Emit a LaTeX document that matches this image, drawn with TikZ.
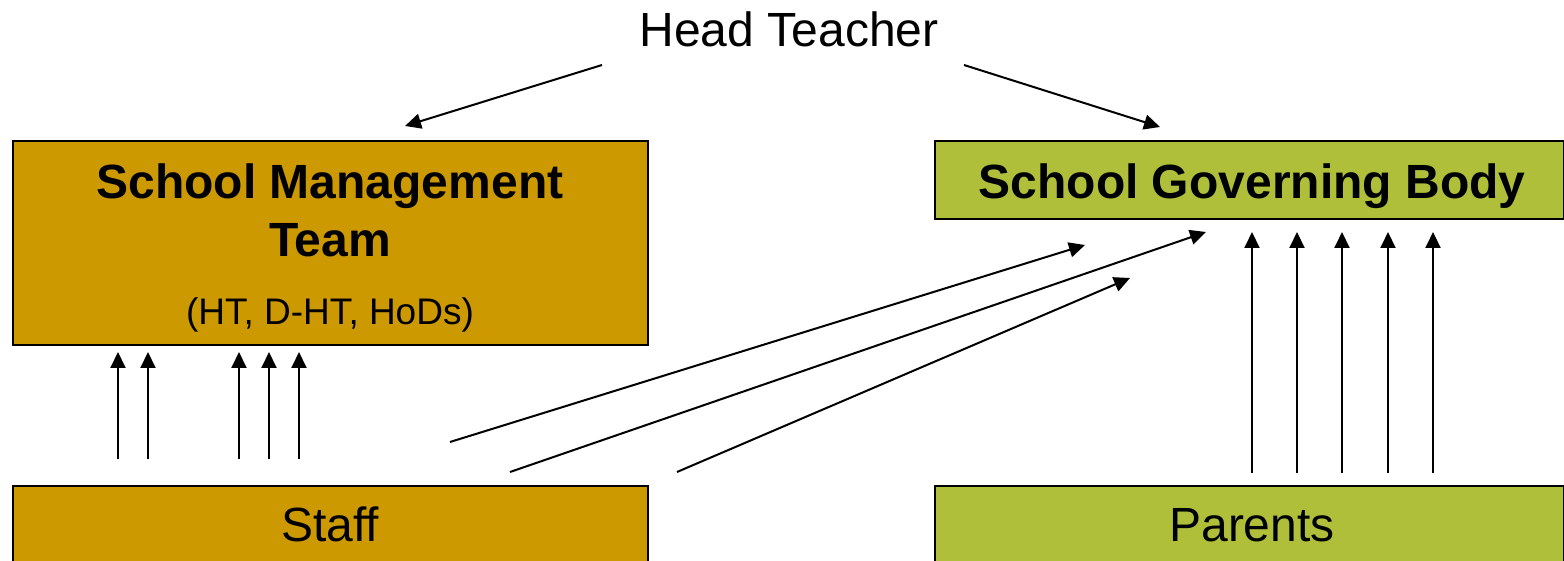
\documentclass[tikz,border=0pt]{standalone}
\usepackage{fontspec}
\setmainfont{Liberation Sans}
\usetikzlibrary{arrows.meta}
\definecolor{gold}{RGB}{204,153,0}
\definecolor{olivegreen}{RGB}{176,191,58}
\begin{document}
\begin{tikzpicture}[x=1pt,y=-1pt,
  box/.style={draw=black,line width=2pt,inner sep=0pt,anchor=north west},
  arr/.style={line width=2pt,-{Triangle[length=16pt,width=15pt]}},
  big/.style={font=\fontsize{48}{56}\selectfont,inner sep=0pt,anchor=base},
  bigb/.style={font=\fontsize{48}{56}\selectfont\bfseries,inner sep=0pt,anchor=base},
  small/.style={font=\fontsize{37}{44}\selectfont,inner sep=0pt,anchor=base}]
\useasboundingbox (0,0) rectangle (1564,561);
\clip (0,0) rectangle (1564,561);
% boxes
\node[box,fill=gold,minimum width=635pt,minimum height=204pt] (smt) at (12,140) {};
\node[box,fill=olivegreen,minimum width=629pt,minimum height=78pt] (sgb) at (934,140) {};
\node[box,fill=gold,minimum width=635pt,minimum height=120pt] (staff) at (12,485) {};
\node[box,fill=olivegreen,minimum width=629pt,minimum height=120pt] (parents) at (934,485) {};
% texts
\node[big] (ht) at (789,47) {Head Teacher};
\node[bigb] (smt1) at (330,199) {School Management};
\node[bigb] (smt2) at (330,257) {Team};
\node[small] (smt3) at (330,325) {(HT, D-HT, HoDs)};
\node[bigb] (sgbt) at (1252,199) {School Governing Body};
\node[big] (stafft) at (330,541) {Staff};
\node[big] (parentst) at (1252,541) {Parents};
% coordinates
\coordinate (htl) at (602,65);
\coordinate (htr) at (964,65);
\coordinate (smtin) at (405,126);
\coordinate (sgbin) at (1160,127);
\foreach \x [count=\i] in {118,148,239,269,299}{
  \coordinate (sa\i) at (\x,459);
  \coordinate (sb\i) at (\x,352);
}
\foreach \x [count=\i] in {1252,1297,1342,1388,1433}{
  \coordinate (pa\i) at (\x,473);
  \coordinate (pb\i) at (\x,232);
}
\coordinate (d1a) at (450,442); \coordinate (d1b) at (1085,245);
\coordinate (d2a) at (510,472); \coordinate (d2b) at (1206,232);
\coordinate (d3a) at (677,472); \coordinate (d3b) at (1130,278);
% arrows
\draw[arr] (htl) -- (smtin);
\draw[arr] (htr) -- (sgbin);
\foreach \i in {1,...,5}{
  \draw[arr] (sa\i) -- (sb\i);
  \draw[arr] (pa\i) -- (pb\i);
}
\draw[arr] (d1a) -- (d1b);
\draw[arr] (d2a) -- (d2b);
\draw[arr] (d3a) -- (d3b);
\end{tikzpicture}
\end{document}
